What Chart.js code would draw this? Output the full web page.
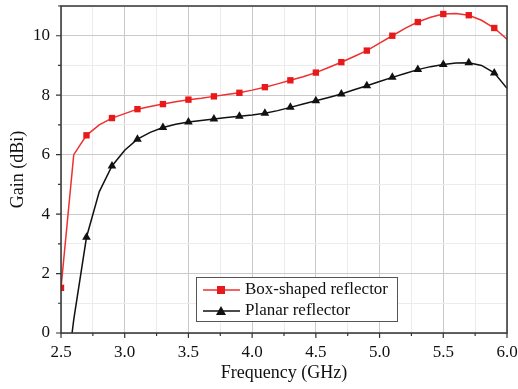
<!DOCTYPE html>
<html>
<head>
<meta charset="utf-8">
<script src="https://cdn.jsdelivr.net/npm/chart.js@4.4.0/dist/chart.umd.min.js"></script>
<style>
  html, body { margin: 0; padding: 0; background: #fff; }
  #wrap { width: 518px; height: 389px; }
</style>
</head>
<body>
<div id="wrap"><canvas id="grafico"></canvas></div>
<script>
// Dados (GHz / dBi)
const frequencias = [2.5, 2.6, 2.7, 2.8, 2.9, 3.0, 3.1, 3.2, 3.3, 3.4, 3.5, 3.6,
    3.7, 3.8, 3.9, 4.0, 4.1, 4.2, 4.3, 4.4, 4.5, 4.6, 4.7, 4.8,
    4.9, 5.0, 5.1, 5.2, 5.3, 5.4, 5.5, 5.6, 5.7, 5.8, 5.9, 6.0];
const ganhoBox = [1.52, 6.0, 6.65, 7.0, 7.23, 7.38, 7.53, 7.62, 7.7, 7.78, 7.85, 7.9,
    7.96, 8.02, 8.08, 8.17, 8.27, 8.38, 8.5, 8.62, 8.76, 8.93, 9.11, 9.3,
    9.5, 9.75, 10.0, 10.25, 10.46, 10.62, 10.73, 10.75, 10.69, 10.52, 10.26, 9.88];
const ganhoPlanar = [-3, 0.45, 3.22, 4.75, 5.62, 6.15, 6.52, 6.75, 6.91, 7.02, 7.1, 7.15,
    7.2, 7.25, 7.29, 7.33, 7.39, 7.48, 7.59, 7.7, 7.81, 7.92, 8.04, 8.18,
    8.32, 8.46, 8.6, 8.73, 8.86, 8.96, 9.03, 9.08, 9.09, 9.0, 8.75, 8.23];
const nomesSeries = ["Box-shaped reflector", "Planar reflector"];
const ticksX = [2.5, 3.0, 3.5, 4.0, 4.5, 5.0, 5.5, 6.0];
const ticksY = [0, 2, 4, 6, 8, 10];

const FONTE = "'Liberation Serif', 'Times New Roman', serif";
const VERMELHO = "#e8191b";
const PRETO = "#111111";

function ehMaiorX(v) { return ticksX.some(t => Math.abs(t - v) < 1e-6); }
function ehMaiorY(v) { return ticksY.includes(v); }

// Marcadores apenas a cada 0.2 GHz
const raioMarcador = (r) => (ctx) => (ctx.dataIndex % 2 === 0 ? r : 0);

// Caixa do gráfico, marcas dos eixos e legenda interna
const molduraPlugin = {
    id: "moldura",
    afterDraw(chart) {
        const { ctx, chartArea: a, scales } = chart;
        ctx.save();
        ctx.strokeStyle = "#333";
        ctx.lineWidth = 1.5;
        ctx.strokeRect(a.left, a.top, a.right - a.left, a.bottom - a.top);

        // marcas para fora
        ctx.lineWidth = 1.2;
        ctx.beginPath();
        scales.x.ticks.forEach(t => {
            const px = scales.x.getPixelForValue(t.value);
            const len = ehMaiorX(t.value) ? 5 : 3;
            ctx.moveTo(px, a.bottom);
            ctx.lineTo(px, a.bottom + len);
        });
        scales.y.ticks.forEach(t => {
            const py = scales.y.getPixelForValue(t.value);
            const len = ehMaiorY(t.value) ? 5 : 3;
            ctx.moveTo(a.left, py);
            ctx.lineTo(a.left - len, py);
        });
        ctx.stroke();

        // legenda
        const lx = a.left + 135, ly = a.bottom - 56, lw = 201, lh = 44;
        ctx.fillStyle = "#fff";
        ctx.fillRect(lx, ly, lw, lh);
        ctx.strokeStyle = "#555";
        ctx.lineWidth = 1;
        ctx.strokeRect(lx + 0.5, ly + 0.5, lw, lh);
        ctx.font = "17px " + FONTE;
        ctx.textBaseline = "middle";
        chart.data.datasets.forEach((ds, i) => {
            const cy = ly + 13 + i * 21;
            ctx.strokeStyle = ds.borderColor;
            ctx.lineWidth = 1.5;
            ctx.beginPath();
            ctx.moveTo(lx + 7, cy);
            ctx.lineTo(lx + 44, cy);
            ctx.stroke();
            ctx.fillStyle = ds.pointBackgroundColor;
            ctx.beginPath();
            if (ds.pointStyle === "rect") {
                ctx.rect(lx + 21, cy - 4, 8, 8);
            } else {
                ctx.moveTo(lx + 25, cy - 5);
                ctx.lineTo(lx + 30, cy + 4);
                ctx.lineTo(lx + 20, cy + 4);
                ctx.closePath();
            }
            ctx.fill();
            ctx.fillStyle = "#111";
            ctx.fillText(ds.label, lx + 49, cy);
        });
        ctx.restore();
    }
};

const ctx = document.getElementById("grafico").getContext("2d");
new Chart(ctx, {
    type: "line",
    data: {
        labels: frequencias,
        datasets: [
            {
                label: nomesSeries[0],
                data: frequencias.map((f, i) => ({ x: f, y: ganhoBox[i] })),
                borderColor: "#ee3030",
                borderWidth: 1.5,
                pointStyle: "rect",
                pointRadius: raioMarcador(4.5),
                pointBackgroundColor: VERMELHO,
                pointBorderColor: VERMELHO,
                pointBorderWidth: 0,
                tension: 0
            },
            {
                label: nomesSeries[1],
                data: frequencias.map((f, i) => ({ x: f, y: ganhoPlanar[i] })),
                borderColor: PRETO,
                borderWidth: 1.5,
                pointStyle: "triangle",
                pointRadius: raioMarcador(5),
                pointBackgroundColor: PRETO,
                pointBorderColor: PRETO,
                pointBorderWidth: 0,
                tension: 0
            }
        ]
    },
    options: {
        responsive: true,
        maintainAspectRatio: false,
        animation: false,
        layout: { padding: { top: 6, right: 11, left: 0, bottom: 0 } },
        plugins: {
            legend: { display: false },
            tooltip: { enabled: false }
        },
        scales: {
            x: {
                type: "linear",
                min: 2.5,
                max: 6.0,
                afterFit: (s) => { s.height = 56; s.paddingLeft = 0; s.paddingRight = 0; },
                ticks: {
                    stepSize: 0.25,
                    autoSkip: false,
                    maxRotation: 0,
                    padding: 9,
                    color: "#111",
                    font: { family: FONTE, size: 17 },
                    callback: (v) => (ehMaiorX(v) ? v.toFixed(1) : "")
                },
                grid: {
                    drawTicks: false,
                    color: (c) => (c.tick && ehMaiorX(c.tick.value) ? "#cacaca" : "#ececec"),
                    lineWidth: 1
                },
                border: { display: false },
                title: {
                    display: true,
                    text: "Frequency (GHz)",
                    color: "#111",
                    font: { family: FONTE, size: 18 },
                    padding: { top: 0, bottom: 5 }
                }
            },
            y: {
                min: 0,
                max: 11,
                afterFit: (s) => { s.width = 61; s.paddingTop = 0; s.paddingBottom = 0; },
                ticks: {
                    stepSize: 1,
                    autoSkip: false,
                    padding: 11,
                    color: "#111",
                    font: { family: FONTE, size: 17 },
                    callback: (v) => (ehMaiorY(v) ? String(v) : "")
                },
                grid: {
                    drawTicks: false,
                    color: (c) => (c.tick && ehMaiorY(c.tick.value) ? "#cacaca" : "#ececec"),
                    lineWidth: 1
                },
                border: { display: false },
                title: {
                    display: true,
                    text: "Gain (dBi)",
                    color: "#111",
                    font: { family: FONTE, size: 18 },
                    padding: { top: 7, bottom: 0 }
                }
            }
        }
    },
    plugins: [molduraPlugin]
});
</script>
</body>
</html>
